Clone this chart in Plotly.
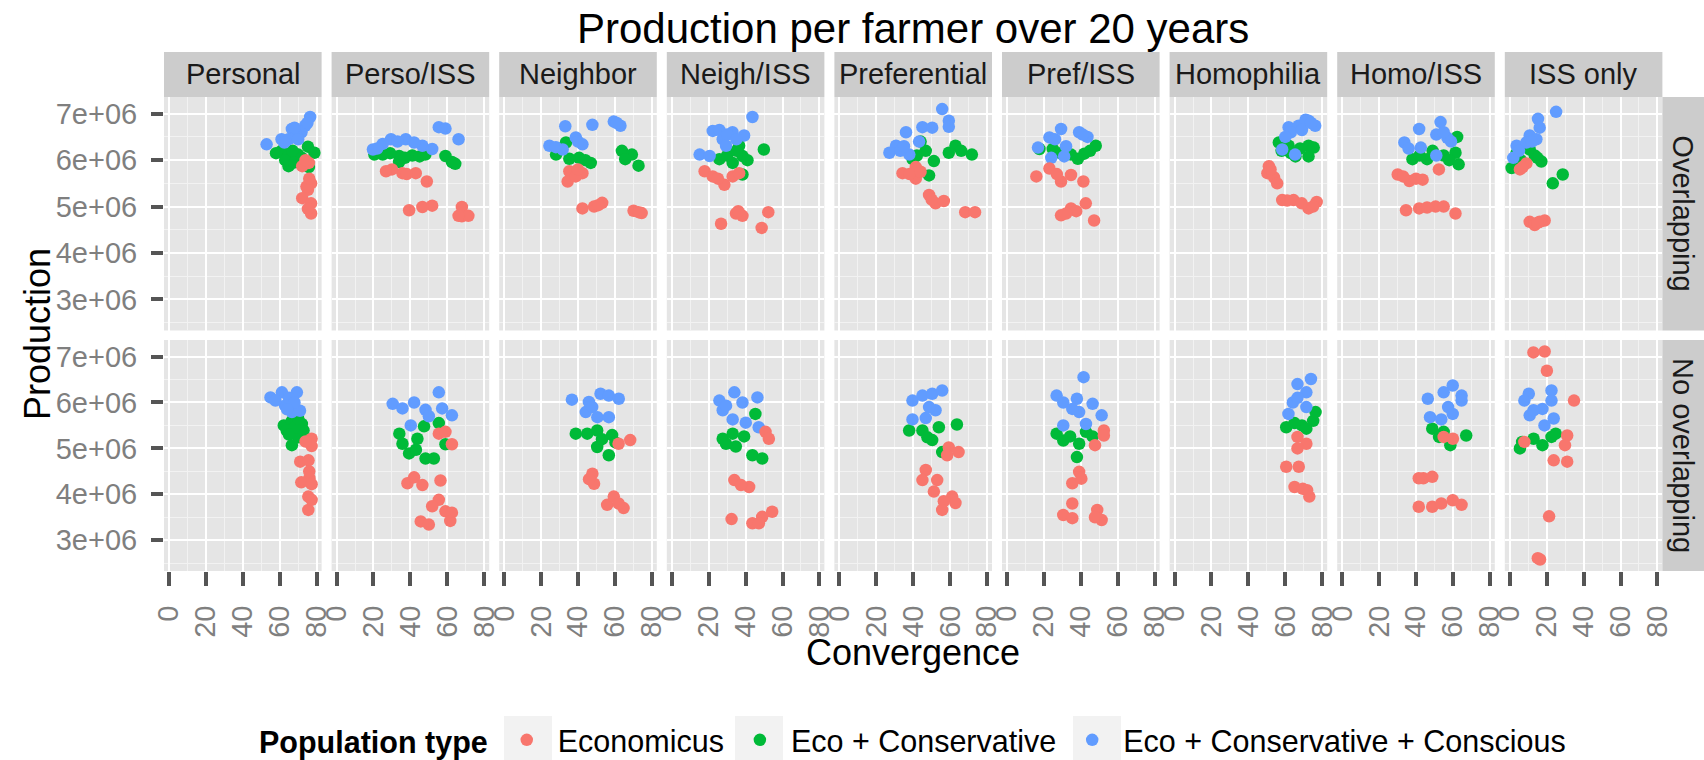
import plotly.graph_objects as go

# ---------------- data ----------------
strategies = ["Personal", "Perso/ISS", "Neighbor", "Neigh/ISS", "Preferential",
              "Pref/ISS", "Homophilia", "Homo/ISS", "ISS only"]
overlap_rows = ["Overlapping", "No overlapping"]
pop_types = ["Economicus", "Eco + Conservative", "Eco + Conservative + Conscious"]
pop_colors = ["#F8766D", "#00BA38", "#619CFF"]

x_tick_values = [0, 20, 40, 60, 80]
x_tick_labels = ["0", "20", "40", "60", "80"]
y_tick_values = [3e6, 4e6, 5e6, 6e6, 7e6]
y_tick_labels = ["3e+06", "4e+06", "5e+06", "6e+06", "7e+06"]

# (convergence, production in millions) per strategy
econ_overlap = {
    "Personal": [(75.8, 5.94), (72.2, 5.87), (77, 5.5), (75.3, 5.36), (72.2, 5.18), (77, 5.07), (77, 4.85), (75.3, 4.95), (74.5, 5.43), (76, 5.6), (74, 6.0)],
    "Perso/ISS": [(26.8, 5.76), (35.7, 5.72), (42.9, 5.72), (48.9, 5.54), (39.3, 4.92), (46.5, 4.99), (51.8, 5.02), (67.9, 4.99), (67.9, 4.79), (71.4, 4.8), (66.1, 4.8), (30, 5.8), (38, 5.7)],
    "Neighbor": [(35.3, 5.76), (42.4, 5.72), (34.4, 5.54), (38.8, 5.65), (42.4, 4.96), (48.7, 5.0), (53.1, 5.08), (70.1, 4.91), (74.5, 4.86), (72.8, 4.88), (40, 5.8), (51, 5.03)],
    "Neigh/ISS": [(17.8, 5.76), (22.2, 5.65), (28.5, 5.47), (33, 5.65), (36.5, 5.72), (26.7, 4.63), (34.8, 4.85), (38.3, 4.8), (52.3, 4.88), (48.7, 4.54), (25, 5.6), (36, 4.9)],
    "Preferential": [(34.2, 5.72), (41.4, 5.85), (41.4, 5.6), (48.6, 5.25), (52.1, 5.07), (56.6, 5.12), (68.2, 4.88), (73.5, 4.88), (38, 5.7), (44, 5.75), (50, 5.15)],
    "Pref/ISS": [(15.9, 5.65), (23, 5.82), (29.3, 5.54), (34.7, 5.68), (41.4, 5.54), (29.3, 4.81), (34.7, 4.96), (42.7, 5.07), (47.2, 4.7), (37.5, 4.9), (27, 5.7), (32, 4.85)],
    "Homophilia": [(51.1, 5.87), (50.3, 5.72), (53.9, 5.63), (55.6, 5.5), (58.3, 5.14), (64.5, 5.14), (72.6, 4.96), (77, 5.1), (68.9, 5.07), (52, 5.8), (61, 5.13), (75, 5.0)],
    "Homo/ISS": [(30.1, 5.69), (36.4, 5.55), (43.6, 5.58), (52.4, 5.8), (34.6, 4.92), (41.7, 4.96), (50.6, 5.0), (55, 5.0), (61.4, 4.85), (33, 5.65), (40, 5.6), (46, 4.98)],
    "ISS only": [(5.5, 5.8), (9, 5.93), (10.8, 4.67), (13.5, 4.6), (18.9, 4.7), (16.2, 4.67), (7, 5.85), (15, 4.65)],
}
cons_overlap = {
    "Personal": [(61, 6.2), (64.8, 6.09), (70, 6.12), (75.3, 6.29), (78.8, 6.16), (64.8, 5.87), (75.8, 5.85), (63, 6.0), (67, 6.2), (72, 6.05), (58, 6.15), (68, 5.95)],
    "Perso/ISS": [(25, 6.12), (33.9, 6.09), (41, 6.1), (48.1, 6.12), (33.9, 5.96), (59, 6.09), (62.5, 5.96), (64.3, 5.92), (20.5, 6.12), (29, 6.15), (45, 6.08), (37, 6.05)],
    "Neighbor": [(28.1, 6.12), (33.5, 6.38), (40.6, 6.05), (46.9, 5.94), (35.3, 6.03), (63.8, 6.2), (69.2, 6.12), (72.8, 5.88), (65.6, 6.02), (31, 6.25), (44, 6.0)],
    "Neigh/ISS": [(36.5, 6.31), (49.9, 6.23), (38.3, 6.09), (25.8, 6.02), (33, 5.94), (38.3, 5.69), (30, 6.1), (35, 6.2), (41, 6.0)],
    "Preferential": [(44, 6.4), (46.8, 6.2), (62.9, 6.31), (59.3, 6.16), (71.8, 6.12), (51.2, 5.98), (48.6, 5.67), (39.7, 6.02), (66, 6.2), (42, 6.1)],
    "Pref/ISS": [(24.8, 6.24), (34.7, 6.12), (48.1, 6.31), (41.9, 6.14), (38.4, 6.03), (17.6, 6.24), (29, 6.15), (45, 6.2)],
    "Homophilia": [(56.5, 6.38), (72.6, 6.31), (65.5, 6.08), (72.6, 6.08), (75.4, 6.27), (61.8, 6.31), (58, 6.2), (68, 6.25), (63, 6.15)],
    "Homo/ISS": [(38.1, 6.02), (49, 6.2), (61.4, 6.16), (63.1, 5.91), (46, 6.02), (62.3, 6.5), (55, 6.1), (58, 6.0), (42, 6.1)],
    "ISS only": [(1, 5.83), (10.8, 6.23), (17.1, 5.97), (13.5, 6.1), (23.3, 5.5), (28.7, 5.69), (3.7, 6.15), (6, 6.0), (15, 6.05)],
}
consc_overlap = {
    "Personal": [(52.9, 6.34), (61, 6.45), (66.6, 6.67), (76.5, 6.93), (71.8, 6.6), (64.8, 6.45), (73.8, 6.74), (69, 6.52), (62.5, 6.38), (75, 6.8), (68, 6.7), (70, 6.45)],
    "Perso/ISS": [(19.7, 6.23), (29.5, 6.45), (37.5, 6.45), (46.5, 6.31), (51.8, 6.24), (55.4, 6.71), (59, 6.68), (66.1, 6.45), (25, 6.35), (33, 6.4), (42, 6.38), (22, 6.25)],
    "Neighbor": [(33.1, 6.73), (47.8, 6.76), (59.4, 6.83), (63, 6.74), (38.8, 6.49), (42.4, 6.34), (24.5, 6.31), (31.7, 6.23), (61, 6.8), (28, 6.28), (40, 6.4)],
    "Neigh/ISS": [(43.7, 6.93), (22.2, 6.63), (32.9, 6.6), (39.2, 6.53), (27.6, 6.45), (15.1, 6.12), (20.5, 6.09), (29.4, 6.31), (25.8, 6.65), (30, 6.55), (35, 6.45)],
    "Preferential": [(55.7, 7.1), (59.3, 6.85), (59.3, 6.72), (45, 6.71), (50.3, 6.7), (36.1, 6.6), (30.7, 6.31), (27.1, 6.16), (37.9, 6.12), (43.2, 6.4), (33, 6.2), (35, 6.3)],
    "Pref/ISS": [(16.8, 6.27), (23, 6.49), (29.3, 6.67), (39.1, 6.6), (43.6, 6.5), (24, 6.05), (31, 6.08), (32, 6.3), (26, 6.45), (41, 6.55)],
    "Homophilia": [(72.6, 6.85), (61.8, 6.71), (67.2, 6.74), (76.2, 6.74), (58.3, 6.23), (65.3, 6.12), (71, 6.87), (63, 6.6), (69, 6.65), (74, 6.8), (60, 6.5)],
    "Homo/ISS": [(41.7, 6.67), (53.3, 6.82), (51, 6.55), (57, 6.48), (33.7, 6.38), (42.6, 6.27), (55, 6.6), (51, 6.1), (36, 6.25), (59, 6.4)],
    "ISS only": [(25.1, 7.04), (15.3, 6.89), (16.2, 6.7), (10.8, 6.53), (3.7, 6.31), (1.9, 6.05), (9, 6.38), (14.4, 6.45), (5, 6.2), (12, 6.4)],
}
econ_no_overlap = {
    "Personal": [(77.3, 5.21), (77.3, 5.05), (71.1, 4.71), (75.6, 4.74), (76.1, 4.35), (71.7, 4.26), (77.3, 4.22), (75.5, 3.95), (75.5, 3.66), (77.3, 3.88), (74, 5.15), (76, 4.5)],
    "Perso/ISS": [(55.4, 5.32), (59, 5.36), (62.5, 5.09), (38.4, 4.24), (42, 4.37), (46.5, 4.2), (56.3, 4.3), (55.4, 3.88), (51.8, 3.74), (45.6, 3.41), (50, 3.34), (59, 3.63), (62.5, 3.6), (61.6, 3.42)],
    "Neighbor": [(62, 5.1), (68.3, 5.18), (47.8, 4.45), (48.7, 4.23), (46, 4.33), (55.8, 3.77), (59.4, 3.95), (64.7, 3.7), (62, 3.8)],
    "Neigh/ISS": [(50.8, 5.36), (52.6, 5.21), (33.9, 4.31), (41.9, 4.16), (37.5, 4.2), (32.4, 3.46), (43.7, 3.37), (49, 3.51), (54.4, 3.62), (47.2, 3.37)],
    "Preferential": [(59.3, 5.02), (64.6, 4.92), (58.4, 4.85), (46.8, 4.53), (45, 4.31), (53, 4.31), (51.2, 4.06), (61.1, 3.95), (56.6, 3.85), (55.7, 3.66), (62.9, 3.81)],
    "Pref/ISS": [(52.5, 5.39), (52.5, 5.28), (47.7, 5.07), (39.1, 4.49), (35.4, 4.24), (40.3, 4.34), (35.4, 3.8), (30.5, 3.55), (35.4, 3.48), (48.9, 3.66), (51.3, 3.44), (47.7, 3.5)],
    "Homophilia": [(66.6, 5.25), (71.4, 5.1), (66.6, 5.0), (60.5, 4.6), (67.3, 4.6), (65, 4.16), (71.8, 4.09), (73, 3.95), (69.5, 4.12)],
    "Homo/ISS": [(55, 5.25), (60, 5.21), (44, 4.35), (48.8, 4.38), (41.5, 4.35), (41.5, 3.73), (48.8, 3.73), (53.7, 3.8), (59.9, 3.87), (64.7, 3.77)],
    "ISS only": [(12.8, 7.09), (18.9, 7.11), (20.1, 6.69), (34.8, 6.04), (7.9, 5.14), (31.1, 5.28), (29.9, 5.07), (23.8, 4.74), (31.1, 4.71), (21.3, 3.52), (15.2, 2.61), (16.4, 2.58)],
}
cons_no_overlap = {
    "Personal": [(62.2, 5.5), (66.6, 5.6), (72, 5.53), (66.6, 5.07), (70.2, 5.24), (63.8, 5.39), (72.9, 5.39), (68, 5.45), (65, 5.3), (70, 5.65)],
    "Perso/ISS": [(34, 5.32), (35.7, 5.1), (39.3, 4.89), (43.8, 5.21), (47.4, 5.48), (48.2, 4.78), (52.7, 4.78), (55.4, 5.55), (59, 5.09), (43, 4.97)],
    "Neighbor": [(38.8, 5.32), (45, 5.32), (50.4, 5.39), (58.5, 5.29), (50.4, 5.03), (56.7, 4.85), (60.3, 5.13), (53, 5.2)],
    "Neigh/ISS": [(45.3, 5.75), (27.6, 5.21), (33, 5.32), (39.2, 5.26), (34.7, 5.04), (43.7, 4.85), (49, 4.78), (29.4, 5.1)],
    "Preferential": [(37.8, 5.39), (45, 5.39), (53.9, 5.46), (63.7, 5.52), (50.3, 5.18), (55.7, 4.92), (47.7, 5.24)],
    "Pref/ISS": [(26.9, 5.32), (34.2, 5.26), (42.8, 5.36), (39.1, 5.1), (37.9, 4.81), (46.4, 5.26), (30.5, 5.17)],
    "Homophilia": [(60.5, 5.46), (69, 5.5), (75.1, 5.6), (76.4, 5.79), (71.4, 5.43), (65, 5.55)],
    "Homo/ISS": [(48.8, 5.43), (55, 5.36), (67.2, 5.28), (58.6, 5.07), (52.5, 5.25)],
    "ISS only": [(6.7, 5.14), (5.5, 5.0), (12.9, 5.21), (22.6, 5.25), (17.7, 5.07), (24.9, 5.32)],
}
consc_no_overlap = {
    "Personal": [(55, 6.11), (61.2, 6.22), (69.3, 6.22), (62.9, 5.93), (66.6, 5.79), (71, 5.82), (57.7, 6.04), (65, 6.1), (68, 6.0), (64, 5.85)],
    "Perso/ISS": [(30.4, 5.97), (35.7, 5.87), (42, 6.0), (48.2, 5.84), (55.4, 6.22), (62.5, 5.72), (57.2, 5.87), (40.2, 5.5), (50, 5.7)],
    "Neighbor": [(36.7, 6.06), (45.9, 6.01), (52.2, 6.19), (56.7, 6.15), (62.1, 6.08), (44.2, 5.79), (50.5, 5.68), (56.7, 5.68), (47.7, 5.9)],
    "Neigh/ISS": [(25.8, 6.04), (33.9, 6.22), (38.3, 6.0), (46.4, 6.11), (27.6, 5.83), (33, 5.63), (40.1, 5.56), (47.1, 5.46), (29.4, 5.93)],
    "Preferential": [(39.6, 6.04), (45, 6.15), (50.3, 6.19), (55.7, 6.26), (52.1, 5.83), (39.6, 5.63), (46.8, 5.66), (48.6, 5.9)],
    "Pref/ISS": [(41.5, 6.55), (26.9, 6.15), (30.5, 6.0), (37.9, 6.08), (46.4, 5.97), (39.1, 5.79), (51.3, 5.72), (30.5, 5.5), (42.8, 5.53), (35.4, 5.86)],
    "Homophilia": [(73.9, 6.51), (66.6, 6.4), (71.4, 6.22), (64.1, 6.0), (61.7, 5.75), (71.4, 5.9), (66.6, 6.1)],
    "Homo/ISS": [(59.9, 6.37), (55, 6.22), (46.4, 6.08), (64.7, 6.15), (57.4, 5.9), (47.6, 5.68), (53.7, 5.63), (64.7, 6.04), (59.9, 5.75)],
    "ISS only": [(22.6, 6.26), (10.3, 6.19), (7.9, 6.04), (17.7, 5.86), (10.8, 5.72), (23.8, 5.65), (18.8, 5.5), (22.6, 6.04), (12.9, 5.83)],
}

# ---------------- layout geometry (pixels) ----------------
W, H = 1704, 760
FONT = "Liberation Sans, Arial, sans-serif"
col_left0, col_step, col_w = 164.0, 167.6, 157.6
row_top = [97.0, 340.0]
row_bottom = [330.5, 571.0]
strip_top = 52.0
right_strip_w = 42.0
x_range = [-2.7, 82.7]
y_range = [2.33e6, 7.36e6]
y_minor = [2.5e6, 3.5e6, 4.5e6, 5.5e6, 6.5e6]
legend_center_y = 740
legend_key_centers = [528, 759, 1097]   # legend key background boxes (px)
legend_key_w = 48
legend_key_y = (716, 760)

row_data = [(econ_overlap, cons_overlap, consc_overlap),
            (econ_no_overlap, cons_no_overlap, consc_no_overlap)]
draw_order = [1, 2, 0]

fig = go.Figure()
layout = {}
shapes = []
annotations = []

for r in range(2):
    for c, strat in enumerate(strategies):
        n = r * 9 + c + 1
        sfx = "" if n == 1 else str(n)
        for g in draw_order:
            pts = row_data[r][g][strat]
            fig.add_trace(go.Scatter(
                x=[p[0] for p in pts], y=[p[1] * 1e6 for p in pts],
                mode="markers", name=pop_types[g], legendgroup=pop_types[g],
                showlegend=(n == 1), legendrank=g + 1,
                marker=dict(color=pop_colors[g], size=12.5, line=dict(width=0)),
                xaxis="x" + sfx, yaxis="y" + sfx, hoverinfo="skip"))
        x0 = col_left0 + c * col_step
        x1 = x0 + col_w
        y0, y1 = row_top[r], row_bottom[r]
        layout["xaxis" + sfx] = dict(
            domain=[x0 / W, x1 / W], range=x_range, anchor="y" + sfx,
            tickmode="array", tickvals=x_tick_values, ticktext=x_tick_labels,
            showticklabels=(r == 1), ticks="outside" if r == 1 else "",
            ticklen=14, tickwidth=3.5, tickcolor="#555555", tickangle=-90,
            ticklabelstandoff=8,
            tickfont=dict(family=FONT, size=29, color="#7F7F7F"),
            showgrid=True, gridcolor="white", gridwidth=2.4,
            minor=dict(dtick=10, tick0=0, showgrid=True, gridcolor="#F2F2F2",
                       gridwidth=1.2, ticks=""),
            zeroline=False, showline=False, automargin=False, fixedrange=True)
        layout["yaxis" + sfx] = dict(
            domain=[1 - y1 / H, 1 - y0 / H], range=y_range, anchor="x" + sfx,
            tickmode="array", tickvals=y_tick_values, ticktext=y_tick_labels,
            showticklabels=(c == 0), ticks="outside" if c == 0 else "",
            ticklen=12, tickwidth=3.5, tickcolor="#555555",
            ticklabelstandoff=8,
            tickfont=dict(family=FONT, size=29, color="#7F7F7F"),
            showgrid=True, gridcolor="white", gridwidth=2.4,
            minor=dict(tickmode="array", tickvals=y_minor, showgrid=True,
                       gridcolor="#F2F2F2", gridwidth=1.2, ticks=""),
            zeroline=False, showline=False, automargin=False, fixedrange=True)
        # top strips
        if r == 0:
            shapes.append(dict(type="rect", xref="paper", yref="paper",
                               x0=x0 / W, x1=x1 / W, y0=1 - y0 / H, y1=1 - strip_top / H,
                               fillcolor="#CCCCCC", line=dict(width=0)))
            annotations.append(dict(text=strat, xref="paper", yref="paper",
                                    x=(x0 + x1) / 2 / W, y=1 - (strip_top + y0) / 2 / H,
                                    xanchor="center", yanchor="middle", showarrow=False,
                                    font=dict(family=FONT, size=29, color="#1A1A1A")))
    # right strip
    sx0 = col_left0 + 8 * col_step + col_w
    shapes.append(dict(type="rect", xref="paper", yref="paper",
                       x0=sx0 / W, x1=(sx0 + right_strip_w) / W,
                       y0=1 - row_bottom[r] / H, y1=1 - row_top[r] / H,
                       fillcolor="#CCCCCC", line=dict(width=0)))
    annotations.append(dict(text=overlap_rows[r], xref="paper", yref="paper",
                            x=(sx0 + right_strip_w / 2) / W,
                            y=1 - (row_top[r] + row_bottom[r]) / 2 / H,
                            xanchor="center", yanchor="middle", showarrow=False,
                            textangle=90,
                            font=dict(family=FONT, size=29, color="#1A1A1A")))

# legend key backgrounds
for kc in legend_key_centers:
    shapes.append(dict(type="rect", xref="paper", yref="paper", layer="below",
                       x0=(kc - legend_key_w / 2) / W, x1=(kc + legend_key_w / 2) / W,
                       y0=1 - legend_key_y[1] / H, y1=1 - legend_key_y[0] / H,
                       fillcolor="#F2F2F2", line=dict(width=0)))

center_x = (col_left0 + 8 * col_step + col_w + col_left0) / 2
annotations.append(dict(text="Production per farmer over 20 years", xref="paper", yref="paper",
                        x=center_x / W, y=1 - 28 / H, xanchor="center", yanchor="middle",
                        showarrow=False, font=dict(family=FONT, size=42, color="black")))
annotations.append(dict(text="Convergence", xref="paper", yref="paper",
                        x=center_x / W, y=1 - 652 / H, xanchor="center", yanchor="middle",
                        showarrow=False, font=dict(family=FONT, size=36, color="black")))
annotations.append(dict(text="Production", xref="paper", yref="paper",
                        x=38 / W, y=1 - 334 / H, xanchor="center", yanchor="middle",
                        textangle=-90, showarrow=False,
                        font=dict(family=FONT, size=36, color="black")))

fig.update_layout(
    width=W, height=H, autosize=False,
    margin=dict(l=0, r=0, t=0, b=0, pad=0, autoexpand=False),
    paper_bgcolor="white", plot_bgcolor="#E5E5E5",
    font=dict(family=FONT, color="black"),
    shapes=shapes, annotations=annotations,
    showlegend=True,
    legend=dict(orientation="h", x=914 / W, xanchor="center",
                y=1 - legend_center_y / H, yanchor="middle",
                title=dict(text="<b>Population type</b>", side="left",
                           font=dict(family=FONT, size=30.5, color="black")),
                font=dict(family=FONT, size=30.5, color="black"),
                itemwidth=52, bgcolor="rgba(0,0,0,0)", traceorder="normal"),
    **layout)

fig.write_html("out.html")
